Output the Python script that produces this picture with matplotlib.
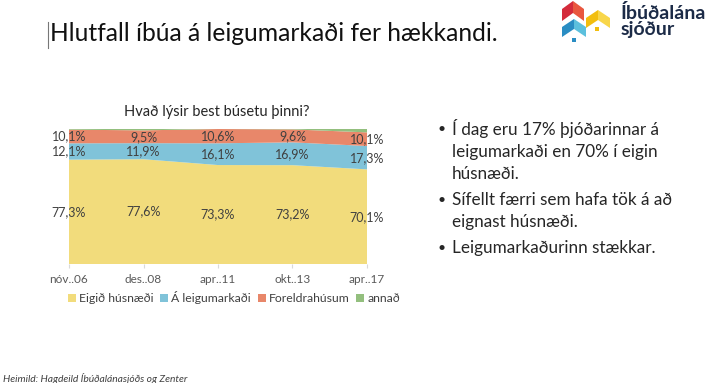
import matplotlib
matplotlib.use("Agg")
import matplotlib.pyplot as plt
from matplotlib.patches import Polygon, Rectangle, Patch

W, H = 713, 383

periods = ["nóv..06", "des..08", "apr..11", "okt..13", "apr..17"]
eigid = [77.3, 77.6, 73.3, 73.2, 70.1]
leiga = [12.1, 11.9, 16.1, 16.9, 17.3]
foreldra = [10.1, 9.5, 10.6, 9.6, 10.1]
annad = [0.5, 1.0, 0.0, 0.3, 2.5]
series_names = ["Eigið húsnæði", "Á leigumarkaði", "Foreldrahúsum", "annað"]
series_colors = ["#F2DC7C", "#80C3D9", "#E8876A", "#93BF7E"]

bullets = [
    ["Í dag eru 17% þjóðarinnar á", "leigumarkaði en 70% í eigin", "húsnæði."],
    ["Sífellt færri sem hafa tök á að", "eignast húsnæði."],
    ["Leigumarkaðurinn stækkar."],
]

plt.rcParams["font.family"] = ["Lato", "DejaVu Sans"]


def fx(px):
    return px / W


def fy(py):
    return 1 - py / H


fig = plt.figure(figsize=(W / 100, H / 100), dpi=100)
fig.patch.set_facecolor("white")

# slide title + text cursor
fig.text(fx(50), fy(41), "Hlutfall íbúa á leigumarkaði fer hækkandi.",
         fontsize=17.7, color="#111111", va="baseline", ha="left")
fig.add_artist(plt.Line2D([fx(47.5), fx(47.5)], [fy(22), fy(48)], color="#777777", lw=0.8))

# logo
def chevron(cx, ty, w, a, t, c_left, c_right):
    pts_l = [(cx - w / 2, ty + a), (cx, ty), (cx, ty + t), (cx - w / 2, ty + a + t)]
    pts_r = [(cx, ty), (cx + w / 2, ty + a), (cx + w / 2, ty + a + t), (cx, ty + t)]
    for pts, c in ((pts_l, c_left), (pts_r, c_right)):
        fig.add_artist(Polygon([(fx(x), fy(y)) for x, y in pts], closed=True,
                               transform=fig.transFigure, facecolor=c, edgecolor="none"))


chevron(573, 1, 22, 8, 12, "#D42B3B", "#E9573F")
chevron(598, 10, 24, 8, 10, "#F2BE0F", "#F8D64A")
chevron(574, 19, 24, 8, 10, "#2A8DC3", "#5CC0DD")
fig.add_artist(Rectangle((fx(595), fy(31)), 4 / W, 4 / H, transform=fig.transFigure,
                         facecolor="#F2BE0F", edgecolor="none"))
fig.add_artist(Rectangle((fx(572), fy(42)), 4 / W, 4 / H, transform=fig.transFigure,
                         facecolor="#2A8DC3", edgecolor="none"))
fig.text(fx(621), fy(35), "Íbúðalána\nsjóður", fontsize=14, fontweight="bold", color="#1C2B47",
         va="baseline", ha="left", linespacing=0.95)

# chart
ax = fig.add_axes([fx(69), fy(264), (367 - 69) / W, (264 - 129) / H])
x = list(range(len(periods)))
ax.stackplot(x, eigid, leiga, foreldra, annad, colors=series_colors, linewidth=0)
ax.set_xlim(0, len(periods) - 1)
ax.set_ylim(0, 100)
for s in ax.spines.values():
    s.set_visible(False)
ax.set_yticks([])
ax.set_xticks(x)
ax.set_xticklabels(periods, fontsize=8.5, color="#595959")
ax.tick_params(axis="x", length=3, color="#D9D9D9", pad=4)
ax.set_facecolor("white")

for i in x:
    base = 0
    for vals in (eigid, leiga, foreldra):
        v = vals[i]
        ax.text(i, base + v / 2, f"{v:.1f}".replace(".", ",") + "%", ha="center", va="center",
                fontsize=9, color="#404040", clip_on=False)
        base += v

fig.text(fx(217), fy(112), "Hvað lýsir best búsetu þinni?", fontsize=10.5, color="#262626",
         ha="center", va="center")

handles = [Patch(facecolor=c, edgecolor="none") for c in series_colors]
fig.legend(handles, series_names, loc="center", bbox_to_anchor=(fx(234), fy(298)), ncol=4,
           frameon=False, fontsize=8.8, handlelength=0.65, handleheight=0.65,
           handletextpad=0.25, columnspacing=0.55, labelcolor="#404040")

# bullet text
line_y = [[129, 152, 174], [200, 222], [248]]
for para, ys in zip(bullets, line_y):
    fig.text(fx(442), fy(ys[0]), "•", fontsize=10, color="#262626", ha="center", va="center")
    for line, yy in zip(para, ys):
        fig.text(fx(452), fy(yy), line, fontsize=12.3, color="#262626", ha="left", va="center")

fig.text(fx(3), fy(378), "Heimild: Hagdeild Íbúðalánasjóðs og Zenter", fontsize=7.4,
         style="italic", color="#404040", ha="left", va="center")

fig.savefig("out.png", dpi=100, facecolor="white")
